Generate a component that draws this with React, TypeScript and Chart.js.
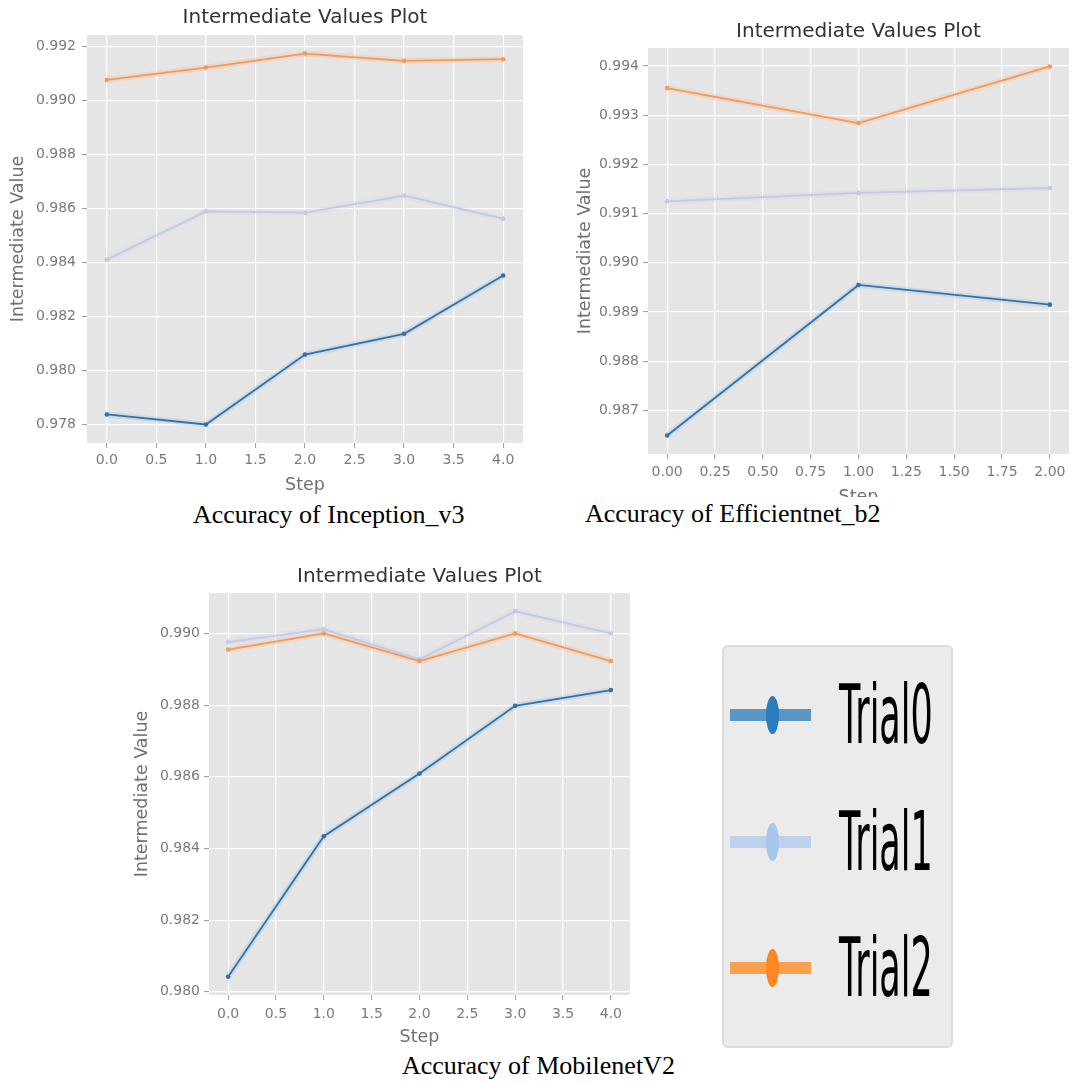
import React, { useEffect, useRef } from "react";
import { Chart, registerables } from "chart.js";

Chart.register(...registerables);

// ---------- data ----------
const TRIAL_NAMES = ["Trial0", "Trial1", "Trial2"];

const incSteps = [0, 1, 2, 3, 4];
const incTrial0 = [0.97837, 0.978, 0.98059, 0.98136, 0.98352];
const incTrial1 = [0.98411, 0.9859, 0.98585, 0.98648, 0.98563];
const incTrial2 = [0.99077, 0.99123, 0.99175, 0.99148, 0.99154];
const incXTicks = [0, 0.5, 1, 1.5, 2, 2.5, 3, 3.5, 4];
const incYTicks = [0.978, 0.98, 0.982, 0.984, 0.986, 0.988, 0.99, 0.992];

const effSteps = [0, 1, 2];
const effTrial0 = [0.98649, 0.98955, 0.98915];
const effTrial1 = [0.99125, 0.99142, 0.99152];
const effTrial2 = [0.99355, 0.99284, 0.99399];
const effXTicks = [0, 0.25, 0.5, 0.75, 1, 1.25, 1.5, 1.75, 2];
const effYTicks = [0.987, 0.988, 0.989, 0.99, 0.991, 0.992, 0.993, 0.994];

const mobSteps = [0, 1, 2, 3, 4];
const mobTrial0 = [0.98042, 0.98434, 0.98609, 0.98798, 0.98842];
const mobTrial1 = [0.98976, 0.99012, 0.98928, 0.99062, 0.99];
const mobTrial2 = [0.98955, 0.99, 0.98923, 0.99, 0.98923];
const mobXTicks = [0, 0.5, 1, 1.5, 2, 2.5, 3, 3.5, 4];
const mobYTicks = [0.98, 0.982, 0.984, 0.986, 0.988, 0.99];

const CAPTIONS = [
  "Accuracy of Inception_v3",
  "Accuracy of Efficientnet_b2",
  "Accuracy of MobilenetV2",
];
const PLOT_TITLE = "Intermediate Values Plot";
const X_LABEL = "Step";
const Y_LABEL = "Intermediate Value";

// ---------- styles ----------
const LINE_COLORS = ["#3b6f9f", "#c3cae2", "#ec9c60"];
const HALO_COLORS = [
  "rgba(150,200,240,0.35)",
  "rgba(200,210,235,0.25)",
  "rgba(255,190,140,0.35)",
];
const LEGEND_LINE = ["#5a97c6", "#bdd1ec", "#f8a04f"];
const LEGEND_MARK = ["#2b7cbd", "#a8c5ea", "#ff8620"];

const plotBg = {
  id: "plotBg",
  beforeDraw(chart: any) {
    const { ctx, chartArea } = chart;
    if (!chartArea) return;
    ctx.save();
    ctx.fillStyle = "#e5e5e5";
    ctx.fillRect(
      chartArea.left,
      chartArea.top,
      chartArea.right - chartArea.left,
      chartArea.bottom - chartArea.top
    );
    ctx.restore();
  },
};

type Geo = {
  width: number;
  height: number;
  yAxisW: number;
  xAxisH: number;
  padRight: number;
  titleTop: number;
  titleBottom: number;
  yTitlePad: number;
  yTickPad: number;
  xTickPad: number;
  xTitlePad: number;
};

function margins(vals: number[]) {
  const lo = Math.min(...vals);
  const hi = Math.max(...vals);
  const r = hi - lo;
  return [lo - 0.05 * r, hi + 0.05 * r];
}

function Panel(props: {
  steps: number[];
  series: number[][];
  xTicks: number[];
  yTicks: number[];
  xDec: number;
  geo: Geo;
}) {
  const ref = useRef<HTMLCanvasElement>(null);
  useEffect(() => {
    const { steps, series, xTicks, yTicks, xDec, geo } = props;
    const [xMin, xMax] = margins(steps);
    const [yMin, yMax] = margins(series.flat());
    const datasets: any[] = [];
    series.forEach((vals, k) => {
      const pts = steps.map((x, i) => ({ x, y: vals[i] }));
      datasets.push({
        label: TRIAL_NAMES[k] + " halo",
        data: pts,
        borderColor: HALO_COLORS[k],
        borderWidth: 6,
        pointRadius: 0,
        fill: false,
        tension: 0,
        order: 10,
      });
      datasets.push({
        label: TRIAL_NAMES[k],
        data: pts,
        borderColor: LINE_COLORS[k],
        backgroundColor: LINE_COLORS[k],
        borderWidth: 1.8,
        pointRadius: 2.3,
        pointBorderWidth: 0,
        pointBackgroundColor: LINE_COLORS[k],
        fill: false,
        tension: 0,
        order: 3 - k,
      });
    });
    const tickFont = { family: "DejaVu Sans", size: 14 };
    const labelFont = { family: "DejaVu Sans", size: 17.5 };
    const chart = new Chart(ref.current!, {
      type: "line",
      data: { datasets },
      plugins: [plotBg],
      options: {
        animation: false,
        responsive: false,
        devicePixelRatio: 1,
        layout: { padding: { left: 0, top: 0, right: geo.padRight, bottom: 0 } },
        plugins: {
          legend: { display: false },
          tooltip: { enabled: false },
          title: {
            display: true,
            fullSize: false,
            text: PLOT_TITLE,
            color: "#333333",
            font: { family: "DejaVu Sans", size: 20, weight: "normal" },
            padding: { top: geo.titleTop, bottom: geo.titleBottom },
          },
        },
        scales: {
          x: {
            type: "linear",
            min: xMin,
            max: xMax,
            afterBuildTicks: (s: any) => {
              s.ticks = xTicks.map((v) => ({ value: v }));
            },
            afterFit: (s: any) => {
              s.height = geo.xAxisH;
            },
            ticks: {
              color: "#7a7a7a",
              font: tickFont,
              padding: geo.xTickPad,
              maxRotation: 0,
              autoSkip: false,
              callback: (v: any) => Number(v).toFixed(xDec),
            },
            grid: {
              color: "#ffffff",
              lineWidth: 1.2,
              drawTicks: true,
              tickLength: 5,
              tickColor: "#999999",
              tickWidth: 1,
            },
            border: { display: false },
            title: {
              display: true,
              text: X_LABEL,
              color: "#707070",
              font: labelFont,
              padding: { top: 0, bottom: geo.xTitlePad },
            },
          },
          y: {
            type: "linear",
            min: yMin,
            max: yMax,
            afterBuildTicks: (s: any) => {
              s.ticks = yTicks.map((v) => ({ value: v }));
            },
            afterFit: (s: any) => {
              s.width = geo.yAxisW;
            },
            ticks: {
              color: "#7a7a7a",
              font: tickFont,
              padding: geo.yTickPad,
              autoSkip: false,
              callback: (v: any) => Number(v).toFixed(3),
            },
            grid: {
              color: "#ffffff",
              lineWidth: 1.2,
              drawTicks: true,
              tickLength: 5,
              tickColor: "#999999",
              tickWidth: 1,
            },
            border: { display: false },
            title: {
              display: true,
              text: Y_LABEL,
              color: "#707070",
              font: labelFont,
              padding: { top: geo.yTitlePad, bottom: 0 },
            },
          },
        },
      } as any,
    });
    return () => chart.destroy();
  }, []);
  return (
    <canvas
      ref={ref}
      width={props.geo.width}
      height={props.geo.height}
      style={{ display: "block", width: props.geo.width, height: props.geo.height }}
    />
  );
}

const captionStyle: React.CSSProperties = {
  position: "absolute",
  fontFamily: "'Liberation Serif', 'Times New Roman', serif",
  fontSize: 26,
  lineHeight: "26px",
  color: "#000",
  whiteSpace: "nowrap",
};

function Legend() {
  const centers = [70, 197, 323];
  return (
    <div
      style={{
        position: "absolute",
        left: 722,
        top: 645,
        width: 231,
        height: 403,
        background: "#ebebeb",
        border: "2px solid #dcdcdc",
        borderRadius: 6,
        boxSizing: "border-box",
      }}
    >
      {TRIAL_NAMES.map((name, k) => (
        <React.Fragment key={name}>
          <div
            style={{
              position: "absolute",
              left: 6,
              top: centers[k] - 2 - 6,
              width: 81,
              height: 12,
              background: LEGEND_LINE[k],
            }}
          />
          <div
            style={{
              position: "absolute",
              left: 42,
              top: centers[k] - 2 - 19,
              width: 13,
              height: 38,
              borderRadius: "50%",
              background: LEGEND_MARK[k],
            }}
          />
          <div
            style={{
              position: "absolute",
              left: 115,
              top: centers[k] - 2 - 17,
              height: 35,
              fontFamily: "'DejaVu Sans', sans-serif",
              fontSize: 35,
              lineHeight: "35px",
              color: "#000",
              whiteSpace: "nowrap",
              transform: "scaleY(2.35)",
              transformOrigin: "center",
            }}
          >
            {name}
          </div>
        </React.Fragment>
      ))}
    </div>
  );
}

export default function App() {
  return (
    <div
      style={{
        position: "absolute",
        left: 0,
        top: 0,
        width: 1084,
        height: 1083,
        background: "#ffffff",
        overflow: "hidden",
      }}
    >
      <div style={{ position: "absolute", left: 0, top: 0 }}>
        <Panel
          steps={incSteps}
          series={[incTrial0, incTrial1, incTrial2]}
          xTicks={incXTicks}
          yTicks={incYTicks}
          xDec={1}
          geo={{
            width: 530,
            height: 500,
            yAxisW: 87,
            xAxisH: 57,
            padRight: 7,
            titleTop: 6,
            titleBottom: 5,
            yTitlePad: 7.5,
            yTickPad: 6,
            xTickPad: 4,
            xTitlePad: 4.5,
          }}
        />
      </div>
      <div
        style={{
          position: "absolute",
          left: 560,
          top: 0,
          width: 519,
          height: 497,
          overflow: "hidden",
        }}
      >
        <Panel
          steps={effSteps}
          series={[effTrial0, effTrial1, effTrial2]}
          xTicks={effXTicks}
          yTicks={effYTicks}
          xDec={2}
          geo={{
            width: 519,
            height: 520,
            yAxisW: 88,
            xAxisH: 66,
            padRight: 10,
            titleTop: 20,
            titleBottom: 4,
            yTitlePad: 14.5,
            yTickPad: 4,
            xTickPad: 5,
            xTitlePad: 12.5,
          }}
        />
      </div>
      <div style={{ position: "absolute", left: 120, top: 555 }}>
        <Panel
          steps={mobSteps}
          series={[mobTrial0, mobTrial1, mobTrial2]}
          xTicks={mobXTicks}
          yTicks={mobYTicks}
          xDec={1}
          geo={{
            width: 520,
            height: 495,
            yAxisW: 89,
            xAxisH: 55,
            padRight: 10,
            titleTop: 10,
            titleBottom: 4,
            yTitlePad: 11.5,
            yTickPad: 4,
            xTickPad: 5.5,
            xTitlePad: 2.5,
          }}
        />
      </div>
      <div style={{ ...captionStyle, left: 193, top: 502 }}>{CAPTIONS[0]}</div>
      <div style={{ ...captionStyle, left: 585, top: 501 }}>{CAPTIONS[1]}</div>
      <div style={{ ...captionStyle, left: 402, top: 1053 }}>{CAPTIONS[2]}</div>
      <Legend />
    </div>
  );
}
